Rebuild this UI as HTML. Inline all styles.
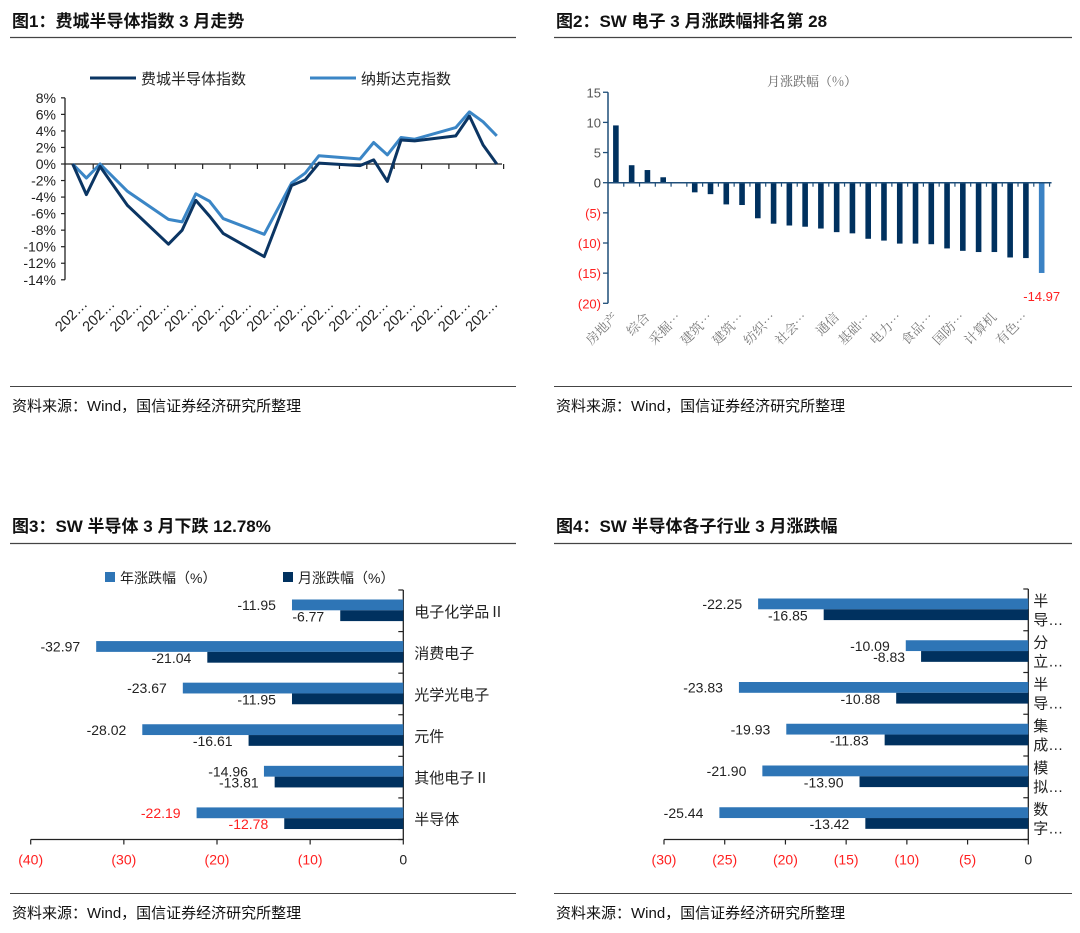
<!DOCTYPE html>
<html><head><meta charset="utf-8">
<style>
html,body{margin:0;padding:0;background:#fff;}
svg{display:block;font-family:"Liberation Sans","Noto Sans CJK SC",sans-serif;}
</style></head>
<body>
<svg id="root" width="1080" height="933" viewBox="0 0 1080 933" xmlns="http://www.w3.org/2000/svg">
<g>
<text x="12" y="27" font-size="17" font-weight="600" fill="#111">图1：费城半导体指数 3 月走势</text>
<line x1="10" y1="37.5" x2="516" y2="37.5" stroke="#444" stroke-width="1.2"/>
</g>
<g>
<text x="556" y="27" font-size="17" font-weight="600" fill="#111">图2：SW 电子 3 月涨跌幅排名第 28</text>
<line x1="554" y1="37.5" x2="1072" y2="37.5" stroke="#444" stroke-width="1.2"/>
</g>
<g>
<text x="12" y="532" font-size="17" font-weight="600" fill="#111">图3：SW 半导体 3 月下跌 12.78%</text>
<line x1="10" y1="543.5" x2="516" y2="543.5" stroke="#444" stroke-width="1.2"/>
</g>
<g>
<text x="556" y="532" font-size="17" font-weight="600" fill="#111">图4：SW 半导体各子行业 3 月涨跌幅</text>
<line x1="554" y1="543.5" x2="1072" y2="543.5" stroke="#444" stroke-width="1.2"/>
</g>
<g>
<line x1="10" y1="386.5" x2="516" y2="386.5" stroke="#444" stroke-width="1"/>
<text x="12" y="411" font-size="15" fill="#111">资料来源：Wind，国信证券经济研究所整理</text>
<line x1="554" y1="386.5" x2="1072" y2="386.5" stroke="#444" stroke-width="1"/>
<text x="556" y="411" font-size="15" fill="#111">资料来源：Wind，国信证券经济研究所整理</text>
<line x1="10" y1="893.5" x2="516" y2="893.5" stroke="#444" stroke-width="1"/>
<text x="12" y="918" font-size="15" fill="#111">资料来源：Wind，国信证券经济研究所整理</text>
<line x1="554" y1="893.5" x2="1072" y2="893.5" stroke="#444" stroke-width="1"/>
<text x="556" y="918" font-size="15" fill="#111">资料来源：Wind，国信证券经济研究所整理</text>
</g>
<g id="c1"></g>
<g id="c2"></g>
<g id="c3"></g>
<g id="c4"></g>
</svg>
<script>
// ---- Chart 1 data ----
const c1Idx = [0,1,2,4,7,8,9,10,11,14,16,17,18,21,22,23,24,25,28,29,30,31];
const c1Sox = [0,-3.7,-0.3,-5,-9.7,-8,-4.4,-6.3,-8.4,-11.2,-2.6,-1.9,0.1,-0.2,0.5,-2.1,2.9,2.8,3.4,5.8,2.3,0];
const c1Ndx = [0,-1.7,0,-3.3,-6.7,-7,-3.6,-4.5,-6.6,-8.5,-2.3,-1.1,1.0,0.6,2.6,1.1,3.2,3.0,4.4,6.3,5.1,3.4];
const c1YTicks = [8,6,4,2,0,-2,-4,-6,-8,-10,-12,-14];
const c1XLabels = Array(16).fill("202…");
// ---- Chart 2 data ----
const c2Vals = [9.5,2.9,2.1,0.9,-0.1,-1.6,-1.9,-3.6,-3.7,-5.9,-6.8,-7.1,-7.3,-7.6,-8.2,-8.4,-9.3,-9.6,-10.1,-10.1,-10.2,-10.9,-11.3,-11.5,-11.5,-12.4,-12.5,-14.97];
const c2Labels = ["房地产","综合","采掘…","建筑…","建筑…","纺织…","社会…","通信","基础…","电力…","食品…","国防…","计算机","有色…"];
const c2YTicks = [15,10,5,0,-5,-10,-15,-20];
// ---- Chart 3 data ----
const c3Cats = ["电子化学品Ⅱ","消费电子","光学光电子","元件","其他电子Ⅱ","半导体"];
const c3Year = [-11.95,-32.97,-23.67,-28.02,-14.96,-22.19];
const c3Month = [-6.77,-21.04,-11.95,-16.61,-13.81,-12.78];
const c3XTicks = [-40,-30,-20,-10,0];
// ---- Chart 4 data ----
const c4Cats = [["半","导…"],["分","立…"],["半","导…"],["集","成…"],["模","拟…"],["数","字…"]];
const c4Year = [-22.25,-10.09,-23.83,-19.93,-21.90,-25.44];
const c4Month = [-16.85,-8.83,-10.88,-11.83,-13.90,-13.42];
const c4XTicks = [-30,-25,-20,-15,-10,-5,0];

const NS="http://www.w3.org/2000/svg";
function mk(parent,tag,attrs,text){const e=document.createElementNS(NS,tag);for(const k in attrs)e.setAttribute(k,attrs[k]);if(text!==undefined)e.textContent=text;parent.appendChild(e);return e;}
function fmtParen(v){return v<0?"("+(-v)+")":String(v);}
const DARK="#0b3563", LIGHT="#3b86c6", BAR_L="#2e75b6", BAR_D="#00315f", RED="#ff2020";

// ===== Chart 1 =====
(function(){
const g=document.getElementById('c1');
const x=i=>72.7+i*13.68, y=v=>164-v*8.27;
let ax=mk(g,'line',{x1:65,y1:y(8),x2:65,y2:y(-14),stroke:'#222','stroke-width':1.3});


c1YTicks.forEach(t=>{
  mk(g,'line',{x1:61,y1:y(t),x2:65,y2:y(t),stroke:'#222','stroke-width':1.2});
  const tl=mk(g,'text',{x:56,y:y(t)+5,'text-anchor':'end','font-size':14,fill:'#222'},t+'%');
  
  
});
const xa=mk(g,'line',{x1:65,y1:y(0),x2:502,y2:y(0),stroke:'#222','stroke-width':1.2});


c1XLabels.forEach((l,k)=>{
  const tx=x(2*k+1.5);
  mk(g,'line',{x1:tx,y1:y(0),x2:tx,y2:y(0)+5,stroke:'#222','stroke-width':1.2});
  const lx=tx-5, ly=305;
  const t=mk(g,'text',{x:lx,y:ly,'text-anchor':'end','font-size':14.5,fill:'#222',transform:`rotate(-45 ${lx} ${ly})`},l);
  
  
});
function line(vals,color,name){
  const p=mk(g,'polyline',{points:vals.map((v,i)=>x(c1Idx[i])+','+y(v)).join(' '),fill:'none',stroke:color,'stroke-width':3,'stroke-linejoin':'round'});
  
  
}
line(c1Ndx,LIGHT,'nasdaq-line');
line(c1Sox,DARK,'sox-line');
const l1=mk(g,'g',{});


mk(l1,'line',{x1:90,y1:78,x2:136,y2:78,stroke:DARK,'stroke-width':3});
mk(l1,'text',{x:141,y:84,'font-size':15,fill:'#222'},'费城半导体指数');
const l2=mk(g,'g',{});


mk(l2,'line',{x1:310,y1:78,x2:356,y2:78,stroke:LIGHT,'stroke-width':3});
mk(l2,'text',{x:361,y:84,'font-size':15,fill:'#222'},'纳斯达克指数');
})();

// ===== Chart 2 =====
(function(){
const g=document.getElementById('c2');
const x0=608, sw=15.77, y=v=>182.7-v*6.03;
const tt=mk(g,'text',{x:812,y:86,'text-anchor':'middle','font-size':13,fill:'#666','font-family':'"Noto Serif CJK SC","Liberation Sans",serif'},'月涨跌幅（%）');


const ya=mk(g,'line',{x1:x0,y1:y(15),x2:x0,y2:y(-20),stroke:'#1f4e79','stroke-width':1.5});


c2YTicks.forEach(t=>{
  mk(g,'line',{x1:x0-5,y1:y(t),x2:x0,y2:y(t),stroke:'#1f4e79','stroke-width':1.3});
  const tl=mk(g,'text',{x:x0-7,y:y(t)+5,'text-anchor':'end','font-size':13,fill:t<0?RED:(t===0?'#333':'#555')},fmtParen(t));
  
  
});
c2Vals.forEach((v,i)=>{
  const cx=x0+(i+0.5)*sw;
  const last=i===c2Vals.length-1;
  const r=mk(g,'rect',{x:cx-2.8,y:Math.min(y(v),y(0)),width:5.6,height:Math.abs(y(v)-y(0)),fill:last?'#3b82c4':BAR_D});
  
  
});
const xa=mk(g,'line',{x1:x0,y1:y(0),x2:x0+c2Vals.length*sw+2,y2:y(0),stroke:'#1f4e79','stroke-width':1.5});


for(let i=1;i<=c2Vals.length;i++){mk(g,'line',{x1:x0+i*sw,y1:y(0),x2:x0+i*sw,y2:y(0)+4,stroke:'#1f4e79','stroke-width':1.2});}
const vl=mk(g,'text',{x:x0+(c2Vals.length-0.5)*sw,y:y(c2Vals[c2Vals.length-1])+28,'text-anchor':'middle','font-size':13,fill:RED},c2Vals[c2Vals.length-1].toFixed(2));


c2Labels.forEach((l,k)=>{
  const cx=x0+(2*k+0.5)*sw+3, ly=318;
  const t=mk(g,'text',{x:cx,y:ly,'text-anchor':'end','font-size':13,fill:'#777','font-family':'"Noto Serif CJK SC","Liberation Sans",serif',transform:`rotate(-45 ${cx} ${ly})`},l);
  
  
});
})();

// ===== Horizontal bar charts =====
function hbar(id,cats,yearV,monthV,ticks,zeroX,minV,minX,top,bottom,twoLine,redLast){
  const g=document.getElementById(id);
  const sc=(zeroX-minX)/(-minV);
  const x=v=>zeroX+v*sc;
  const band=(bottom-top)/cats.length;
  const ya=mk(g,'line',{x1:zeroX,y1:top,x2:zeroX,y2:bottom,stroke:'#222','stroke-width':1.3});
  
  
  for(let i=0;i<=cats.length;i++)mk(g,'line',{x1:zeroX-5,y1:top+i*band,x2:zeroX,y2:top+i*band,stroke:'#222','stroke-width':1.2});
  cats.forEach((c,i)=>{
    const bt=top+i*band+9.5, bh=10.8;
    const r1=mk(g,'rect',{x:x(yearV[i]),y:bt,width:zeroX-x(yearV[i]),height:bh,fill:BAR_L});
    
    
    const r2=mk(g,'rect',{x:x(monthV[i]),y:bt+bh,width:zeroX-x(monthV[i]),height:bh,fill:BAR_D});
    
    
    const col=(redLast&&i===cats.length-1)?RED:'#222';
    const t1=mk(g,'text',{x:x(yearV[i])-16,y:bt+10.5,'text-anchor':'end','font-size':14,fill:col},yearV[i].toFixed(2));
    
    
    const t2=mk(g,'text',{x:x(monthV[i])-16,y:bt+bh+11,'text-anchor':'end','font-size':14,fill:col},monthV[i].toFixed(2));
    
    
    const cy=top+(i+0.5)*band;
    if(twoLine){
      const a=mk(g,'text',{x:zeroX+5,y:cy-4,'font-size':15,fill:'#222'},c[0]);
      
      
      const b=mk(g,'text',{x:zeroX+5,y:cy+15,'font-size':15,fill:'#222'},c[1]);
      
      
    }else{
      const a=mk(g,'text',{x:zeroX+11,y:cy+6,'font-size':15,fill:'#222'},c);
      
      
    }
  });
  const xa=mk(g,'line',{x1:x(ticks[0]),y1:bottom,x2:zeroX,y2:bottom,stroke:'#222','stroke-width':1.3});
  
  
  ticks.forEach(t=>{
    mk(g,'line',{x1:x(t),y1:bottom,x2:x(t),y2:bottom+5,stroke:'#222','stroke-width':1.2});
    const tl=mk(g,'text',{x:x(t),y:bottom+25,'text-anchor':'middle','font-size':14,fill:t<0?RED:'#222'},fmtParen(t));
    
    
  });
}
hbar('c3',c3Cats,c3Year,c3Month,c3XTicks,403.3,-40,30.7,590,839.5,false,true);
hbar('c4',c4Cats,c4Year,c4Month,c4XTicks,1028.3,-30,664,589,839.5,true,false);
(function(){
  const g=document.getElementById('c3');
  const a=mk(g,'g',{});
  
  
  mk(a,'rect',{x:105,y:572,width:10,height:10,fill:BAR_L});
  mk(a,'text',{x:120,y:583,'font-size':14,fill:'#222'},'年涨跌幅（%）');
  const b=mk(g,'g',{});
  
  
  mk(b,'rect',{x:283,y:572,width:10,height:10,fill:BAR_D});
  mk(b,'text',{x:298,y:583,'font-size':14,fill:'#222'},'月涨跌幅（%）');
})();
</script>
</body></html>
